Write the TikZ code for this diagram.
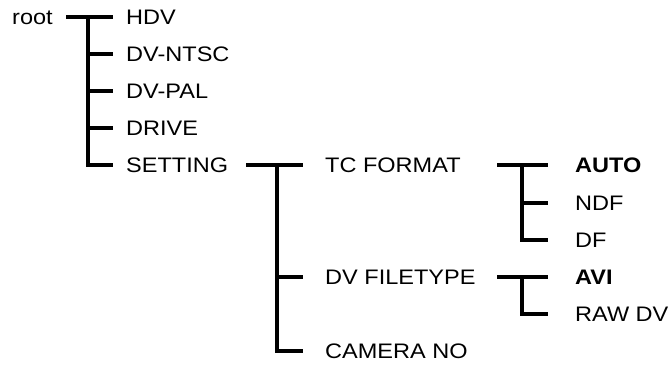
\documentclass[tikz,border=0pt]{standalone}
\usepackage{fontspec}
\setmainfont{Liberation Sans}[FakeStretch=1.12]
\begin{document}
\begin{tikzpicture}
[x=1pt,y=-1pt,
  treeline/.style={line width=4pt},%
  itemdecorate/.style={anchor=west,inner ysep=0pt,text height=15pt,
    text depth=0pt,font=\fontsize{21}{25}\selectfont},
  levelzero/.style={itemdecorate,inner xsep=0pt},
  levelone/.style={itemdecorate,inner xsep=13pt},
  leveltwo/.style={itemdecorate,inner xsep=22pt},
  levelthree/.style={itemdecorate,inner xsep=27pt}]
\useasboundingbox (0,0) rectangle (670,367);
%% menu items
\foreach \nodename/\x/\row/\level/\caption in {root/12/0/zero/root,
  hdv/113/0/one/HDV, ntsc/113/1/one/DV-NTSC, pal/113/2/one/DV-PAL,
  drive/113/3/one/DRIVE, setting/113/4/one/SETTING,
  tcformat/303/4/two/TC FORMAT, filetype/303/7/two/DV FILETYPE,
  camera/303/9/two/CAMERA NO,
  auto/548/4/three/\textbf{AUTO}, ndf/548/5/three/NDF, df/548/6/three/DF,
  avi/548/7/three/\textbf{AVI}, rawdv/548/8/three/RAW DV} {
  \node (\nodename) at (\x,16.6+37.2*\row) [level\level] {\caption};
}
%% forks
\foreach \nodename/\x/\row in {rootout/66/0, rootfork/88/0,
  settingout/246/4, settingfork/277/4,
  tcout/497/4, tcfork/522/4, ftout/497/7, ftfork/522/7} {
  \coordinate (\nodename) at (\x,16.6+37.2*\row);
}
%% lines
\draw[treeline] (rootout) -- (hdv.west);
\draw[treeline] (settingout) -- (tcformat.west);
\draw[treeline] (tcout) -- (auto.west);
\draw[treeline] (ftout) -- (avi.west);
\foreach \fork/\child in {rootfork/ntsc, rootfork/pal, rootfork/drive,
  rootfork/setting, settingfork/filetype, settingfork/camera,
  tcfork/ndf, tcfork/df, ftfork/rawdv} {
  \draw[treeline] (\fork) |- (\child.west);
}
\end{tikzpicture}
\end{document}
